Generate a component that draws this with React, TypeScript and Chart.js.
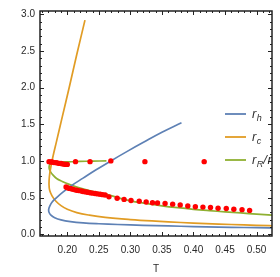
import { useEffect, useRef } from 'react';
import { Chart, registerables } from 'chart.js';

Chart.register(...registerables);

// r_h curve (blue)
const rhT = [0.381, 0.35, 0.32, 0.295, 0.269, 0.245, 0.225, 0.207, 0.193, 0.183, 0.176, 0.172, 0.1705, 0.171, 0.174, 0.18, 0.19, 0.205, 0.225, 0.25, 0.28, 0.32, 0.36, 0.4, 0.44, 0.48, 0.52, 0.54];
const rhR = [1.52, 1.39, 1.25, 1.13, 1.0, 0.875, 0.765, 0.665, 0.575, 0.5, 0.44, 0.38, 0.34, 0.3, 0.26, 0.225, 0.195, 0.172, 0.155, 0.143, 0.133, 0.122, 0.113, 0.105, 0.098, 0.092, 0.087, 0.085];

// r_c curve (orange)
const rcT = [0.228, 0.215, 0.203, 0.192, 0.183, 0.177, 0.1735, 0.1715, 0.171, 0.172, 0.176, 0.182, 0.19, 0.2, 0.215, 0.235, 0.26, 0.3, 0.34, 0.38, 0.42, 0.46, 0.5, 0.54];
const rcR = [2.92, 2.45, 2.0, 1.6, 1.27, 1.05, 0.9, 0.78, 0.68, 0.6, 0.52, 0.45, 0.39, 0.34, 0.295, 0.26, 0.23, 0.2, 0.178, 0.16, 0.145, 0.133, 0.122, 0.112];

// r_R curve (green)
const rRT = [0.262, 0.24, 0.22, 0.2, 0.186, 0.177, 0.1725, 0.1712, 0.1715, 0.1735, 0.177, 0.183, 0.192, 0.203, 0.215, 0.229, 0.245, 0.262, 0.28, 0.3, 0.325, 0.35, 0.375, 0.4, 0.425, 0.45, 0.475, 0.5, 0.525, 0.54];
const rRR = [1.0, 0.997, 0.993, 0.988, 0.982, 0.973, 0.955, 0.925, 0.89, 0.85, 0.81, 0.76, 0.72, 0.68, 0.645, 0.61, 0.575, 0.545, 0.5, 0.455, 0.42, 0.388, 0.362, 0.34, 0.322, 0.306, 0.29, 0.275, 0.26, 0.252];

// red data points
const dotT = [0.171, 0.174, 0.176, 0.179, 0.182, 0.184, 0.187, 0.19, 0.192, 0.195, 0.198, 0.2, 0.213, 0.236, 0.269, 0.323, 0.417,
  0.198, 0.2, 0.203, 0.206, 0.209, 0.212, 0.215, 0.218, 0.222, 0.225, 0.229, 0.232, 0.236, 0.24, 0.244, 0.248, 0.252, 0.256, 0.26,
  0.266, 0.279, 0.29, 0.301, 0.314, 0.325, 0.335, 0.343, 0.355, 0.367, 0.379, 0.391, 0.403, 0.415, 0.427, 0.439, 0.452, 0.464, 0.477, 0.489];
const dotR = [0.99, 0.985, 0.985, 0.977, 0.977, 0.973, 0.966, 0.964, 0.96, 0.955, 0.952, 0.952, 0.99, 0.99, 1.0, 0.99, 0.99,
  0.645, 0.635, 0.625, 0.62, 0.612, 0.605, 0.6, 0.595, 0.59, 0.583, 0.577, 0.572, 0.565, 0.56, 0.555, 0.55, 0.545, 0.54, 0.535,
  0.51, 0.49, 0.475, 0.46, 0.45, 0.44, 0.43, 0.425, 0.42, 0.41, 0.40, 0.385, 0.375, 0.37, 0.365, 0.355, 0.35, 0.34, 0.335, 0.325];

const xTicks = [0.2, 0.25, 0.3, 0.35, 0.4, 0.45, 0.5];
const yTicks = [0, 0.5, 1.0, 1.5, 2.0, 2.5, 3.0];
const legendLabels = ['r_h', 'r_c', 'r_R/r_h'];
const seriesColors = ['#5E81B5', '#E19C24', '#8FB032'];

const pts = (xs: number[], ys: number[]) => xs.map((x, i) => ({ x, y: ys[i] }));

function drawRich(ctx: CanvasRenderingContext2D, s: string, x: number, y: number) {
  let cx = x;
  for (let i = 0; i < s.length; i++) {
    const ch = s[i];
    if (ch === '_' && i + 1 < s.length) {
      ctx.font = 'italic 9px "Liberation Sans", Arial, sans-serif';
      ctx.fillText(s[i + 1], cx, y + 3);
      cx += ctx.measureText(s[i + 1]).width;
      i++;
    } else {
      ctx.font = 'italic 13px "Liberation Sans", Arial, sans-serif';
      ctx.fillText(ch, cx, y);
      cx += ctx.measureText(ch).width + 0.5;
    }
  }
}

const framePlugin = {
  id: 'frameTicks',
  afterDatasetsDraw(chart: any) {
    const { ctx, chartArea: a, scales } = chart;
    const xs = scales.x;
    const ys = scales.y;
    // legend (clipped to plot area)
    ctx.save();
    ctx.beginPath();
    ctx.rect(a.left, a.top, a.right - a.left, a.bottom - a.top);
    ctx.clip();
    legendLabels.forEach((lab, i) => {
      const ly = 114 + i * 23;
      ctx.strokeStyle = seriesColors[i];
      ctx.lineWidth = 1.8;
      ctx.beginPath();
      ctx.moveTo(225, ly);
      ctx.lineTo(246, ly);
      ctx.stroke();
      ctx.fillStyle = '#333';
      ctx.textBaseline = 'alphabetic';
      ctx.textAlign = 'left';
      drawRich(ctx, lab, 252, ly + 4);
    });
    ctx.restore();

    ctx.save();
    ctx.strokeStyle = '#222';
    ctx.lineWidth = 1;
    // x ticks
    for (let i = Math.ceil(xs.min * 100); i <= Math.floor(xs.max * 100); i++) {
      const px = Math.round(xs.getPixelForValue(i / 100)) + 0.5;
      const len = i % 5 === 0 ? 4 : 2;
      ctx.beginPath();
      ctx.moveTo(px, a.bottom);
      ctx.lineTo(px, a.bottom - len);
      ctx.moveTo(px, a.top);
      ctx.lineTo(px, a.top + len);
      ctx.stroke();
    }
    for (let i = Math.ceil(ys.min * 10); i <= Math.floor(ys.max * 10); i++) {
      const py = Math.round(ys.getPixelForValue(i / 10)) + 0.5;
      const len = i % 5 === 0 ? 4 : 2;
      ctx.beginPath();
      ctx.moveTo(a.left, py);
      ctx.lineTo(a.left + len, py);
      ctx.moveTo(a.right, py);
      ctx.lineTo(a.right - len, py);
      ctx.stroke();
    }
    ctx.lineWidth = 1.5;
    ctx.strokeRect(a.left, a.top, a.right - a.left, a.bottom - a.top);
    ctx.restore();
  },
};

export default function App() {
  const ref = useRef<HTMLCanvasElement | null>(null);
  useEffect(() => {
    if (!ref.current) return;
    const lineDs = (label: string, xs: number[], ys: number[], color: string) => ({
      label,
      data: pts(xs, ys),
      showLine: true,
      borderColor: color,
      borderWidth: 1.7,
      pointRadius: 0,
      tension: 0.4,
      fill: false,
      order: 1,
    });
    const chart = new Chart(ref.current, {
      type: 'scatter',
      data: {
        datasets: [
          lineDs('r_h', rhT, rhR, seriesColors[0]),
          lineDs('r_c', rcT, rcR, seriesColors[1]),
          lineDs('r_R', rRT, rRR, seriesColors[2]),
          {
            label: 'data',
            data: pts(dotT, dotR),
            showLine: false,
            pointRadius: 2.7,
            pointBackgroundColor: '#FF0000',
            pointBorderWidth: 0,
            borderColor: '#FF0000',
            order: 0,
          },
        ],
      },
      options: {
        animation: false,
        responsive: false,
        devicePixelRatio: 1,
        layout: { padding: { top: 5, right: 8, left: 0, bottom: 0 } },
        plugins: { legend: { display: false }, tooltip: { enabled: false } },
        scales: {
          x: {
            type: 'linear',
            min: 0.1567,
            max: 0.5245,
            grid: { display: false, drawTicks: false },
            border: { display: false },
            afterBuildTicks: (s: any) => { s.ticks = xTicks.map((v) => ({ value: v })); },
            afterFit: (s: any) => { s.height = 41; },
            ticks: {
              padding: 8,
              maxRotation: 0,
              autoSkip: false,
              color: '#2a2a2a',
              font: { family: '"Liberation Sans", Arial, sans-serif', size: 10 },
              callback: (v: any) => Number(v).toFixed(2),
            },
            title: {
              display: true,
              text: 'T',
              color: '#2a2a2a',
              font: { family: '"Liberation Sans", Arial, sans-serif', size: 10 },
              padding: { top: 0, bottom: 2 },
            },
          },
          y: {
            type: 'linear',
            min: -0.024,
            max: 3.044,
            grid: { display: false, drawTicks: false },
            border: { display: false },
            afterBuildTicks: (s: any) => { s.ticks = yTicks.map((v) => ({ value: v })); },
            afterFit: (s: any) => { s.width = 40; },
            ticks: {
              padding: 5,
              autoSkip: false,
              color: '#2a2a2a',
              font: { family: '"Liberation Sans", Arial, sans-serif', size: 10 },
              callback: (v: any) => Number(v).toFixed(1),
            },
          },
        },
      },
      plugins: [framePlugin],
    } as any);
    return () => chart.destroy();
  }, []);
  return (
    <div style={{ position: 'fixed', left: 0, top: 0, width: 280, height: 277, background: '#fff' }}>
      <canvas ref={ref} width={280} height={277} style={{ display: 'block' }} />
    </div>
  );
}
